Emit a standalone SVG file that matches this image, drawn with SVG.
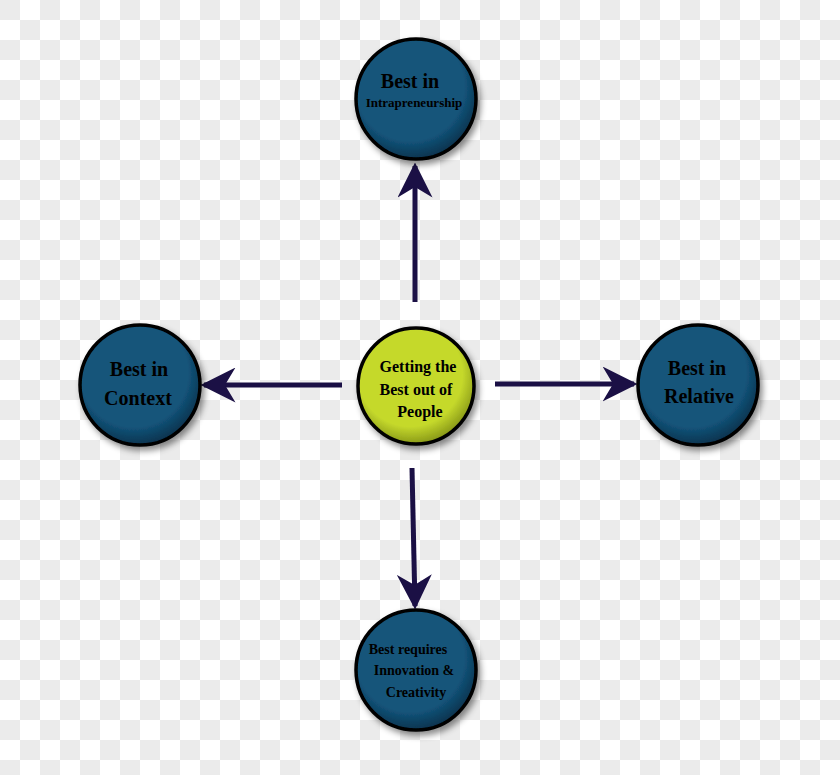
<svg xmlns="http://www.w3.org/2000/svg" width="840" height="775" viewBox="0 0 840 775">
<style>
.n{stroke:#000;stroke-width:3.5}
.b{fill:url(#gb)}
.c{stroke:#1b1045;stroke-width:5;fill:none;marker-end:url(#ah)}
text{font-family:"Liberation Serif",serif;font-weight:bold;fill:#000;text-anchor:middle}
</style>
<defs>
<pattern id="chk" width="40" height="40" patternUnits="userSpaceOnUse">
<rect width="40" height="40" fill="#ffffff"/>
<rect width="20" height="20" fill="#ebebeb"/>
<rect x="20" y="20" width="20" height="20" fill="#ebebeb"/>
</pattern>
<radialGradient id="gb" cx="0.45" cy="0.4" r="0.6">
<stop offset="0.75" stop-color="#13547a"/>
<stop offset="1" stop-color="#0b3450"/>
</radialGradient>
<radialGradient id="gy" cx="0.45" cy="0.4" r="0.6">
<stop offset="0.75" stop-color="#c5d92c"/>
<stop offset="1" stop-color="#8a9a18"/>
</radialGradient>
<filter id="sh" x="-20%" y="-20%" width="150%" height="150%">
<feDropShadow dx="3" dy="4" stdDeviation="3" flood-color="#000" flood-opacity="0.45"/>
</filter>
<marker id="ah" viewBox="0 0 10 10" refX="9" refY="5" markerWidth="7" markerHeight="7" orient="auto" markerUnits="strokeWidth">
<path d="M0,0 L10,5 L0,10 L3,5 Z" fill="#1b1045"/>
</marker>
</defs>
<rect width="840" height="775" fill="url(#chk)"/>
<g id="connectors">
<line class="c" x1="415" y1="302" x2="415" y2="166"/>
<line class="c" x1="342" y1="385" x2="204" y2="385"/>
<line class="c" x1="495" y1="384" x2="634" y2="384"/>
<line class="c" x1="412" y1="468" x2="415" y2="606"/>
</g>
<g id="center">
<circle class="n" cx="416" cy="386" r="58" fill="url(#gy)" filter="url(#sh)"/>
<text x="418" y="372" font-size="16">Getting  the</text>
<text x="416" y="395" font-size="16">Best out of</text>
<text x="420" y="417" font-size="16">People</text>
</g>
<g id="top">
<circle class="n b" cx="416" cy="99" r="60" filter="url(#sh)"/>
<text x="410" y="88" font-size="20">Best in</text>
<text x="414" y="107" font-size="13">Intrapreneurship</text>
</g>
<g id="left">
<circle class="n b" cx="140" cy="385" r="60" filter="url(#sh)"/>
<text x="139" y="376" font-size="20">Best in</text>
<text x="138" y="405" font-size="20">Context</text>
</g>
<g id="right">
<circle class="n b" cx="698" cy="385" r="60" filter="url(#sh)"/>
<text x="697" y="375" font-size="20">Best in</text>
<text x="699" y="403" font-size="20">Relative</text>
</g>
<g id="bottom">
<circle class="n b" cx="416" cy="670" r="60" filter="url(#sh)"/>
<text x="408" y="654" font-size="14">Best requires</text>
<text x="414" y="675" font-size="14">Innovation &amp;</text>
<text x="416" y="697" font-size="14">Creativity</text>
</g>
</svg>
